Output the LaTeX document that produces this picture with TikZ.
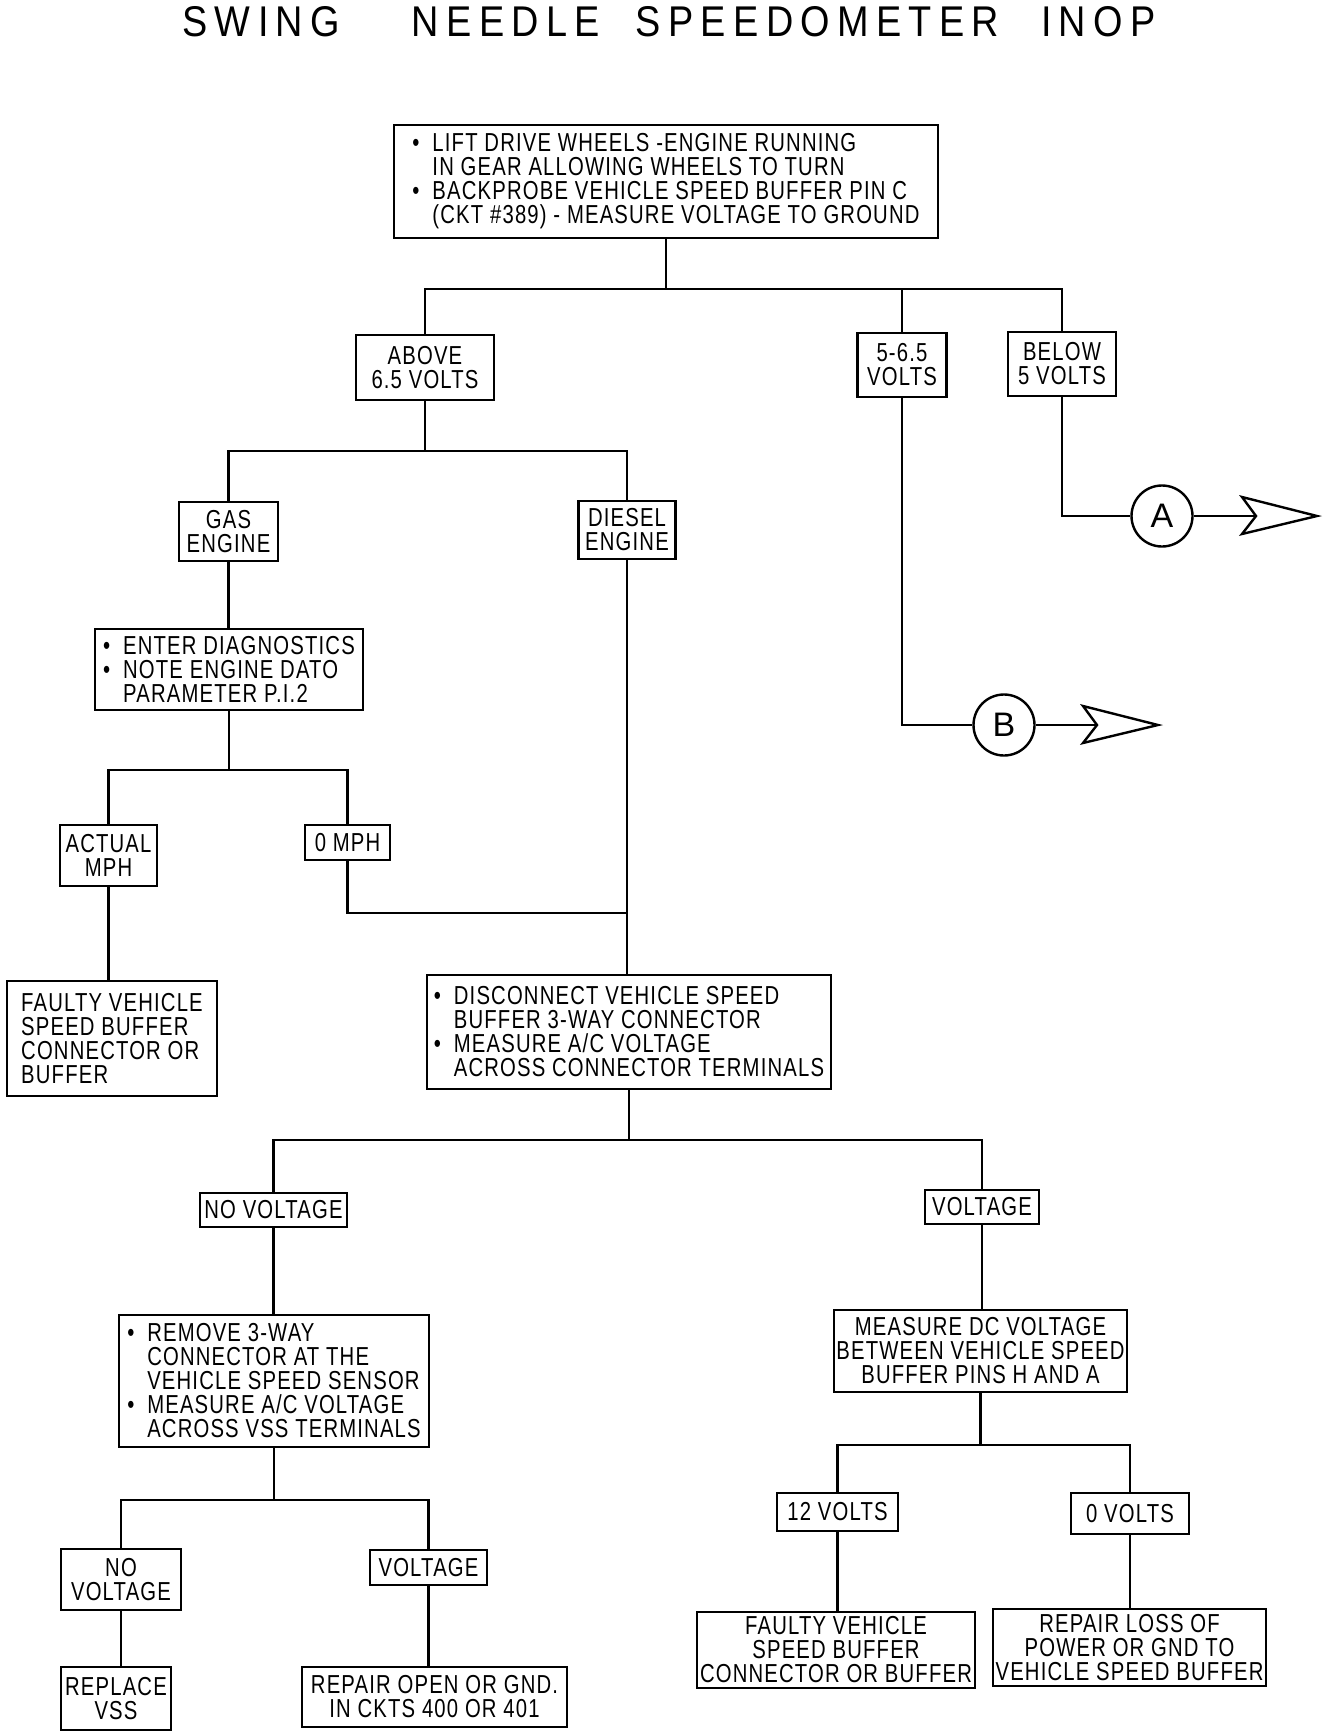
\documentclass[tikz,border=0pt]{standalone}
\usepackage{fontspec}
\setmainfont{Liberation Sans}
\newfontfamily\boxfont{Liberation Sans}[FakeStretch=0.78,LetterSpace=4.5]
\newfontfamily\titlefont{Liberation Sans}[FakeStretch=0.88,LetterSpace=17]
\newcommand\bul{\makebox[20pt][l]{•}}
\newcommand\ind{\hspace*{20pt}}
\tikzset{
  box/.style={draw, line width=2.8pt, inner sep=0pt, align=center,
    font=\boxfont\fontsize{26}{24}\selectfont},
  conn/.style={line width=2.4pt},
  circ/.style={draw, circle, line width=2.4pt, minimum size=61pt, inner sep=0pt,
    font=\fontsize{34}{34}\selectfont},
  arrowhd/.style={line width=2.4pt, fill=white, line join=miter}
}
\begin{document}
\begin{tikzpicture}[x=1pt,y=-1pt]
\fill[white] (0,0) rectangle (1328,1734);
\useasboundingbox (0,0) rectangle (1328,1734);

\node[font=\titlefont\fontsize{43}{43}\selectfont] (title) at (669,22)
  {SWING\hspace{72pt}NEEDLE\hspace{36pt}SPEEDOMETER\hspace{42pt}INOP};

\node[box, align=left, minimum width=544pt, minimum height=113pt] (top) at (666,181.5)
  {\bul LIFT DRIVE WHEELS -ENGINE RUNNING\\
   \ind IN GEAR ALLOWING WHEELS TO TURN\\
   \bul BACKPROBE VEHICLE SPEED BUFFER PIN C\\
   \ind (CKT \#389) - MEASURE VOLTAGE TO GROUND};

\node[box, minimum width=138pt, minimum height=65pt] (above) at (425,367.5) {ABOVE\\6.5 VOLTS};
\node[box, minimum width=89pt, minimum height=64pt] (mid) at (902,365) {5-6.5\\VOLTS};
\node[box, minimum width=108pt, minimum height=64pt] (below) at (1062,364) {BELOW\\5 VOLTS};

\node[box, minimum width=99pt, minimum height=59pt] (gas) at (228.5,531.5) {GAS\\ENGINE};
\node[box, minimum width=97pt, minimum height=58pt] (diesel) at (627,530) {DIESEL\\ENGINE};

\node[box, align=left, minimum width=268pt, minimum height=81pt] (diag) at (229,669.5)
  {\bul ENTER DIAGNOSTICS\\
   \bul NOTE ENGINE DATO\\
   \ind PARAMETER P.I.2};

\node[box, minimum width=97pt, minimum height=61pt] (actual) at (108.5,855.5) {ACTUAL\\MPH};
\node[box, minimum width=85pt, minimum height=35pt] (zmph) at (347.5,842.5) {0 MPH};

\node[box, align=left, minimum width=210pt, minimum height=115pt] (faulty1) at (112,1038.5)
  {FAULTY VEHICLE\\SPEED BUFFER\\CONNECTOR OR\\BUFFER};

\node[box, align=left, minimum width=404pt, minimum height=114pt] (disc) at (629,1032)
  {\bul DISCONNECT VEHICLE SPEED\\
   \ind BUFFER 3-WAY CONNECTOR\\
   \bul MEASURE A/C VOLTAGE\\
   \ind ACROSS CONNECTOR TERMINALS};

\node[box, minimum width=147pt, minimum height=34pt] (novolt) at (273.5,1210) {NO VOLTAGE};
\node[box, minimum width=114pt, minimum height=34pt] (volt) at (982,1207) {VOLTAGE};

\node[box, align=left, minimum width=310pt, minimum height=132pt] (remove) at (274,1381)
  {\bul REMOVE 3-WAY\\
   \ind CONNECTOR AT THE\\
   \ind VEHICLE SPEED SENSOR\\
   \bul MEASURE A/C VOLTAGE\\
   \ind ACROSS VSS TERMINALS};

\node[box, minimum width=120pt, minimum height=61pt] (novolt2) at (121,1579.5) {NO\\VOLTAGE};
\node[box, minimum width=117pt, minimum height=35pt] (volt2) at (428.5,1567.5) {VOLTAGE};
\node[box, minimum width=110pt, minimum height=63pt] (replace) at (116,1698.5) {REPLACE\\VSS};
\node[box, minimum width=265pt, minimum height=60pt] (repair) at (434.5,1697) {REPAIR OPEN OR GND.\\IN CKTS 400 OR 401};

\node[box, minimum width=293pt, minimum height=82pt] (dc) at (980.5,1351)
  {MEASURE DC VOLTAGE\\BETWEEN VEHICLE SPEED\\BUFFER PINS H AND A};
\node[box, minimum width=121pt, minimum height=38pt] (twelve) at (837.5,1512) {12 VOLTS};
\node[box, minimum width=118pt, minimum height=41pt] (zerov) at (1130,1513.5) {0 VOLTS};
\node[box, minimum width=278pt, minimum height=76pt] (faulty2) at (836,1650)
  {FAULTY VEHICLE\\SPEED BUFFER\\CONNECTOR OR BUFFER};
\node[box, minimum width=273pt, minimum height=77pt] (repairloss) at (1129.5,1647.5)
  {REPAIR LOSS OF\\POWER OR GND TO\\VEHICLE SPEED BUFFER};

\node[circ] (circA) at (1162,516) {A};
\node[circ] (circB) at (1004,725) {B};
\coordinate (tipA) at (1317,516);
\coordinate (tipB) at (1158,725);

% connectors
\coordinate (j1) at (665,289);
\draw[conn] (top.south) -- (top.south |- j1);
\draw[conn] (above.north) |- (below.north |- j1) -- (below.north);
\draw[conn] (mid.north) -- (mid.north |- j1);

\coordinate (j2) at (425,451);
\draw[conn] (above.south) -- (above.south |- j2);
\draw[conn] (gas.north) |- (diesel.north |- j2) -- (diesel.north);

\draw[conn] (gas.south) -- (gas.south |- diag.north);
\coordinate (j3) at (229,770);
\draw[conn] (diag.south) -- (diag.south |- j3);
\draw[conn] (actual.north) |- (zmph.north |- j3) -- (zmph.north);
\draw[conn] (actual.south) -- (actual.south |- faulty1.north);

\coordinate (j4) at (627,913);
\draw[conn] (zmph.south) |- (j4);
\draw[conn] (diesel.south) -- (diesel.south |- disc.north);

\coordinate (j5) at (629,1140);
\draw[conn] (disc.south) -- (disc.south |- j5);
\draw[conn] (novolt.north) |- (volt.north |- j5) -- (volt.north);

\draw[conn] (novolt.south) -- (novolt.south |- remove.north);
\coordinate (j6) at (274,1500);
\draw[conn] (remove.south) -- (remove.south |- j6);
\draw[conn] (novolt2.north) |- (volt2.north |- j6) -- (volt2.north);
\draw[conn] (novolt2.south) -- (novolt2.south |- replace.north);
\draw[conn] (volt2.south) -- (volt2.south |- repair.north);

\draw[conn] (volt.south) -- (volt.south |- dc.north);
\coordinate (j7) at (981,1445);
\draw[conn] (dc.south) -- (dc.south |- j7);
\draw[conn] (twelve.north) |- (zerov.north |- j7) -- (zerov.north);
\draw[conn] (twelve.south) -- (twelve.south |- faulty2.north);
\draw[conn] (zerov.south) -- (zerov.south |- repairloss.north);

% off-page connectors
\draw[conn] (below.south) |- (circA.west);
\draw[conn] (circA.east) -- (tipA);
\draw[arrowhd] (tipA) -- ++(-75,-19) -- ++(14,19) -- ++(-14,18) -- cycle;
\draw[conn] (mid.south) |- (circB.west);
\draw[conn] (circB.east) -- (tipB);
\draw[arrowhd] (tipB) -- ++(-75,-19) -- ++(14,19) -- ++(-14,18) -- cycle;
\end{tikzpicture}
\end{document}
